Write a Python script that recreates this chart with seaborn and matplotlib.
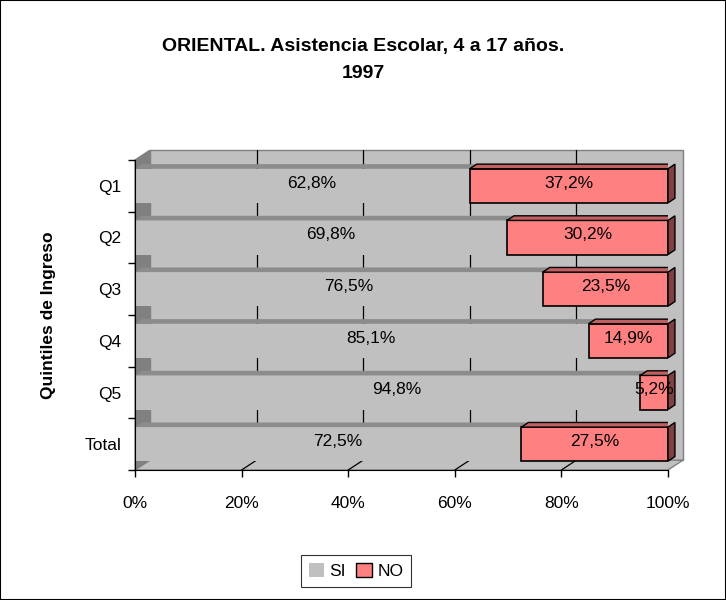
import numpy as np
import matplotlib
matplotlib.use("Agg")
import matplotlib.pyplot as plt
from matplotlib.patches import Polygon, Rectangle, Patch
import pandas as pd
import seaborn as sns

sns.set_style("white")
plt.rcParams['font.family'] = ['Liberation Sans', 'DejaVu Sans']
plt.rcParams['text.color'] = 'black'
plt.rcParams['axes.labelcolor'] = 'black'
plt.rcParams['xtick.color'] = 'black'
plt.rcParams['ytick.color'] = 'black'

# data
categorias = ["Q1", "Q2", "Q3", "Q4", "Q5", "Total"]
si = [62.8, 69.8, 76.5, 85.1, 94.8, 72.5]
no = [37.2, 30.2, 23.5, 14.9, 5.2, 27.5]
xticks = [0, 20, 40, 60, 80, 100]

df = pd.DataFrame({"cat": categorias, "SI": si, "NO": no})

GRIS = "#C0C0C0"
GRIS_OSC = "#808080"
SALMON = "#FF8080"
FS = 12.5

fig = plt.figure(figsize=(7.26, 6), dpi=100)
ax = fig.add_axes([135/726, 1-470/600, 533/726, 310/600])
ax.set_facecolor("none")
ax.set_xlim(0, 100)
ax.set_ylim(5.5, -0.5)

# 3D box: back wall, left wall, floor
dx, dy = 2.8, 0.19
ax.add_patch(Rectangle((dx, -0.5 - dy), 100, 6, facecolor=GRIS,
                       edgecolor=GRIS_OSC, lw=1, clip_on=False, zorder=0))
ax.add_patch(Polygon([(0, -0.5), (dx, -0.5 - dy), (dx, 5.5 - dy), (0, 5.5)],
                     closed=True, facecolor=GRIS_OSC, edgecolor=GRIS_OSC,
                     clip_on=False, zorder=0.5))
ax.add_patch(Polygon([(0, 5.5), (dx, 5.5 - dy), (100 + dx, 5.5 - dy), (100, 5.5)],
                     closed=True, facecolor=GRIS, edgecolor=GRIS_OSC,
                     clip_on=False, zorder=0.5))
for t in xticks[1:-1]:
    ax.plot([t + dx, t + dx], [-0.5 - dy, 5.5 - dy], color="black", lw=0.9,
            clip_on=False, zorder=0.6)
    ax.plot([t, t + dx], [5.5, 5.5 - dy], color="black", lw=0.9,
            clip_on=False, zorder=0.6)

# bars
h = 0.66
sns.barplot(data=df, x="SI", y="cat", orient="h", color=GRIS, width=h,
            saturation=1, linewidth=0, ax=ax, zorder=2)
ys = np.arange(len(categorias))
ax.barh(ys, no, left=si, height=h, color=SALMON, edgecolor="black",
        lw=1.2, zorder=3)

ddx, ddy = 1.3, 0.09
for y, s, n in zip(ys, si, no):
    top = y - h/2
    ax.add_patch(Polygon([(0, top), (ddx, top - ddy), (s + ddx, top - ddy), (s, top)],
                         closed=True, facecolor="#8C8C8C", lw=0, zorder=2.5))
    ax.add_patch(Polygon([(s, top), (s + ddx, top - ddy), (s + n + ddx, top - ddy),
                          (s + n, top)], closed=True, facecolor="#C06060",
                         edgecolor="black", lw=1, zorder=3.5))
    ax.add_patch(Polygon([(s + n, top), (s + n + ddx, top - ddy),
                          (s + n + ddx, y + h/2 - ddy), (s + n, y + h/2)],
                         closed=True, facecolor="#804040", edgecolor="black",
                         lw=1, clip_on=False, zorder=3.5))
    ax.text(s/2 + dx - 1, y - 0.05, f"{s:.1f}%".replace(".", ","), ha="center",
            va="center", fontsize=FS, zorder=5)
    ax.text(s + n/2, y - 0.05, f"{n:.1f}%".replace(".", ","), ha="center",
            va="center", fontsize=FS, zorder=5)

# axes
for sp in ["top", "right"]:
    ax.spines[sp].set_visible(False)
ax.spines["left"].set_color("black")
ax.spines["bottom"].set_color("black")
ax.spines["left"].set_zorder(4)
ax.set_xticks(xticks)
ax.set_xticklabels([f"{t}%" for t in xticks], fontsize=FS)
ax.tick_params(axis="x", direction="out", length=5, width=1, color="black",
               bottom=True, pad=14)
ax.set_yticks(ys)
ax.set_yticklabels(categorias, fontsize=FS)
ax.set_yticks(np.arange(-0.5, 6, 1), minor=True)
ax.tick_params(axis="y", which="major", length=0, pad=10)
ax.tick_params(axis="y", which="minor", direction="out", length=5, width=1,
               color="black", left=True)
ax.set_xlabel("")
ax.set_ylabel("Quintiles de Ingreso", fontsize=FS, fontweight="bold")
ax.yaxis.set_label_coords(-(135 - 56) / 533, 0.5)

fig.text(0.5, 1 - 60/600, "ORIENTAL. Asistencia Escolar, 4 a 17 años.\n1997",
         ha="center", va="center", fontsize=14, fontweight="bold",
         linespacing=1.75)

handles = [Patch(facecolor=GRIS, edgecolor="none", label="SI"),
           Patch(facecolor=SALMON, edgecolor="black", label="NO")]
leg = fig.legend(handles=handles, loc="center", bbox_to_anchor=(356/726, 1 - 571/600),
                 ncol=2, frameon=True, fancybox=False, edgecolor="black",
                 fontsize=FS, handlelength=0.9, handleheight=0.9,
                 handletextpad=0.3, columnspacing=0.6, borderpad=0.45)
leg.get_frame().set_linewidth(0.8)

fig.patches.append(Rectangle((0, 0), 1, 1, transform=fig.transFigure,
                             fill=False, edgecolor="black", lw=1.5))

fig.savefig("out.png", dpi=100)
